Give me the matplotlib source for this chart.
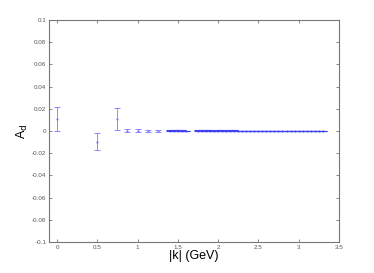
import matplotlib.pyplot as plt

plt.rcParams['font.family'] = ['Liberation Sans', 'DejaVu Sans']

# sparse low-k points
k_low = [0.0, 0.5, 0.75, 0.875, 1.0, 1.125, 1.25]
a_low = [0.011, -0.0095, 0.011, 0.0003, 0.0002, 0.0002, 0.0001]
err_low = [0.011, 0.008, 0.010, 0.0015, 0.0012, 0.0008, 0.0006]

# dense high-k points
k_high = [1.40, 1.45, 1.50, 1.55, 1.60, 1.75, 1.80, 1.85, 1.90, 1.95,
          2.00, 2.05, 2.10, 2.15, 2.20, 2.25, 2.30, 2.35, 2.40, 2.45,
          2.50, 2.55, 2.60, 2.65, 2.70, 2.75, 2.80, 2.85, 2.90, 2.95,
          3.00, 3.05, 3.10, 3.15, 3.20, 3.25, 3.30]
a_high = [0.0003, 0.0004, 0.0002, 0.0001, 0.0, 0.0002, 0.0003, 0.0002, 0.0001, 0.0,
          0.0002, 0.0001, 0.0, 0.0001, 0.0002, 0.0, -0.0001, 0.0, 0.0001, 0.0,
          0.0, 0.0001, 0.0, -0.0001, 0.0, 0.0001, 0.0, 0.0, -0.0001, 0.0,
          0.0, 0.0001, 0.0, 0.0, -0.0001, 0.0, 0.0]
err_high = [0.0006, 0.0005, 0.0005, 0.0005, 0.0004, 0.0005, 0.0005, 0.0004, 0.0004, 0.0004,
            0.0004, 0.0004, 0.0004, 0.0004, 0.0003, 0.0003, 0.0003, 0.0003, 0.0003, 0.0003,
            0.0003, 0.0003, 0.0003, 0.0003, 0.0003, 0.0003, 0.0003, 0.0003, 0.0003, 0.0003,
            0.0003, 0.0003, 0.0003, 0.0003, 0.0003, 0.0003, 0.0003]

fig = plt.figure(figsize=(3.74, 2.73), dpi=100)
ax = fig.add_axes([0.131, 0.1136, 0.775, 0.813])

ax.errorbar(k_low, a_low, yerr=err_low, fmt='.', color='#7878ff', markersize=1.2,
            elinewidth=0.6, capsize=2.5, capthick=0.6)
ax.errorbar(k_high, a_high, yerr=err_high, fmt='.', color='#4040f0', markersize=0.8,
            elinewidth=0.6, capsize=3.0, capthick=0.8)

ax.set_xlim(-0.1, 3.5)
ax.set_ylim(-0.1, 0.1)
ax.set_xticks([0, 0.5, 1, 1.5, 2, 2.5, 3, 3.5])
ax.set_xticklabels(['0', '0.5', '1', '1.5', '2', '2.5', '3', '3.5'])
ax.set_yticks([-0.1, -0.08, -0.06, -0.04, -0.02, 0, 0.02, 0.04, 0.06, 0.08, 0.1])
ax.set_yticklabels(['-0.1', '-0.08', '-0.06', '-0.04', '-0.02', '0',
                    '0.02', '0.04', '0.06', '0.08', '0.1'])
ax.tick_params(direction='in', top=True, right=True, length=2.5, width=0.5,
               labelsize=4.5, colors='#555555', pad=2)
for s in ax.spines.values():
    s.set_color('#777777')
    s.set_linewidth(0.8)

ax.set_xlabel('|k| (GeV)', fontsize=9, labelpad=0)
ax.set_ylabel('A$_{\\rm d}$', fontsize=9, labelpad=1)

plt.savefig('out.png', dpi=100)
